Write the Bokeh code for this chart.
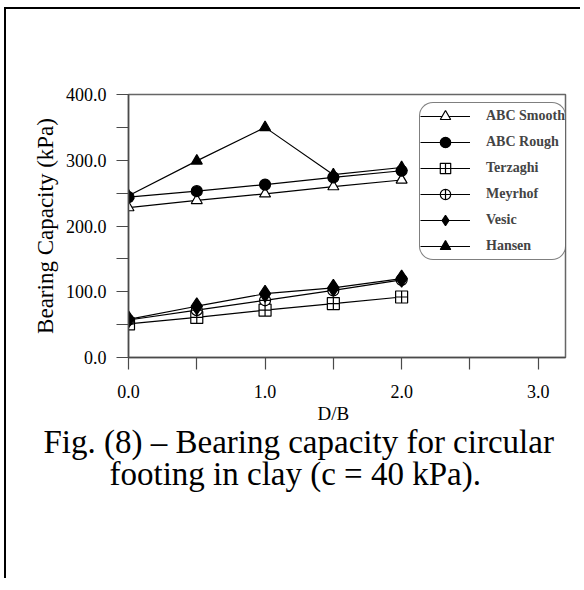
from bokeh.plotting import figure
from bokeh.models import (Range1d, FixedTicker, NumeralTickFormatter, Legend, LegendItem, Title)
from bokeh.embed import file_html
from bokeh.resources import INLINE

# D/B ratio and bearing capacity (kPa) for each method
db = [0.0, 0.5, 1.0, 1.5, 2.0]
abc_smooth = [228, 239, 249, 260, 270]
abc_rough = [244, 253, 263, 274, 284]
terzaghi = [51, 61, 72, 82, 92]
meyrhof = [57, 72, 87, 102, 118]
vesic = [58, 78, 97, 106, 120]
hansen = [246, 299, 350, 278, 289]

x_major = [0.0, 1.0, 2.0, 3.0]
x_minor = [0.5, 1.5, 2.5]
y_major = [0, 100, 200, 300, 400]
y_minor = [50, 150, 250, 350]

SERIF = "Liberation Serif"
AXIS = "#4a4a4a"

# page is framed by a rule on the left and top; the figure sits inside it
PAGE_W, PAGE_H = 584, 590
MX, MY = 6, 9
W, H = PAGE_W - MX - 2, PAGE_H - MY - 10
LEFT, RIGHT, TOP, BOTTOM = 128 - MX, 17, 94 - MY, 223

p = figure(width=W, height=H, output_backend="svg", toolbar_location=None,
           x_range=Range1d(0, 3.2), y_range=Range1d(0, 400),
           min_border_left=LEFT, min_border_right=RIGHT,
           min_border_top=TOP, min_border_bottom=BOTTOM,
           background_fill_color="white", border_fill_color="white")
p.margin = (MY - 2, 0, 0, MX - 2)
p.styles = {"border-left": "2px solid black", "border-top": "2px solid black",
            "vertical-align": "top"}
p.grid.visible = False
p.outline_line_color = "#666666"
p.outline_line_width = 1.5

for ax, major, minor in ((p.xaxis[0], x_major, x_minor), (p.yaxis[0], y_major, y_minor)):
    ax.ticker = FixedTicker(ticks=major, minor_ticks=minor)
    ax.formatter = NumeralTickFormatter(format="0.0")
    ax.axis_line_color = AXIS
    ax.axis_line_width = 1.5
    ax.major_tick_line_color = AXIS
    ax.minor_tick_line_color = AXIS
    ax.major_tick_line_width = 1.2
    ax.minor_tick_line_width = 1.2
    ax.major_tick_in = 0
    ax.minor_tick_in = 0
    ax.major_tick_out = 12
    ax.minor_tick_out = 12
    ax.major_label_text_font = SERIF
    ax.major_label_text_font_size = "18px"
    ax.major_label_text_color = "black"

p.xaxis.major_label_standoff = 15
p.yaxis.major_label_standoff = 10
p.yaxis.axis_label = "Bearing Capacity (kPa)"
p.yaxis.axis_label_text_font = SERIF
p.yaxis.axis_label_text_font_size = "23px"
p.yaxis.axis_label_text_font_style = "normal"
p.yaxis.axis_label_text_color = "black"
p.yaxis.axis_label_standoff = 5

series = [
    ("ABC Smooth", abc_smooth, "triangle", "white"),
    ("ABC Rough", abc_rough, "circle", "black"),
    ("Terzaghi", terzaghi, "square_cross", "white"),
    ("Meyrhof", meyrhof, "circle_cross", "white"),
    ("Vesic", vesic, "diamond", "black"),
    ("Hansen", hansen, "triangle", "black"),
]
sizes = {"triangle": 11, "circle": 11, "square_cross": 12, "circle_cross": 11, "diamond": 17}

items = []
for name, vals, marker, fill in series:
    ln = p.line(db, vals, line_color="black", line_width=1.2)
    sc = p.scatter(db, vals, marker=marker, size=sizes[marker], fill_color=fill,
                   line_color="black", line_width=1.2)
    items.append(LegendItem(label=name, renderers=[ln, sc]))

legend = Legend(items=items, location=(291, 97), margin=0, padding=0,
                glyph_width=50, glyph_height=26, label_height=26, spacing=0,
                label_standoff=16, label_text_font=SERIF, label_text_font_size="14px",
                label_text_font_style="bold", border_line_color="black",
                border_line_width=1.3, border_radius=14, background_fill_alpha=1)
p.add_layout(legend, "center")

# x-axis title under the tick labels
p.add_layout(Title(text="D/B", align="left", offset=189, text_font=SERIF,
                   text_font_size="19px", text_font_style="normal",
                   text_color="black", standoff=0), "below")

# two-line figure caption; the second line is indented so both read as centred
NBSP = "\u00a0"
caption = ("Fig. (8) \u2013 Bearing capacity for circular\n"
           + NBSP * 8 + "footing in clay (c = 40 kPa).")
p.add_layout(Title(text=caption, align="left", offset=-85, vertical_align="top",
                   text_font=SERIF, text_font_size="33px", text_font_style="normal",
                   text_color="black", standoff=0, text_line_height=0.9), "below")

open("out.html", "w").write(file_html(p, INLINE))
